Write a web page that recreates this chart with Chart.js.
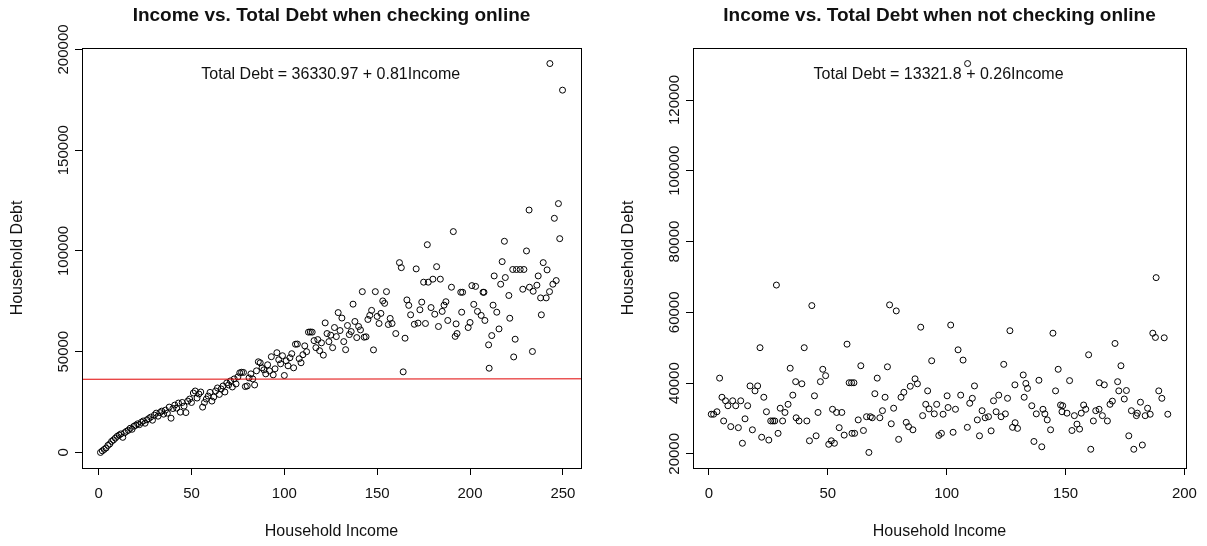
<!DOCTYPE html>
<html>
<head>
<meta charset="utf-8">
<script src="https://cdn.jsdelivr.net/npm/chart.js@4.4.1/dist/chart.umd.min.js"></script>
<style>
body { margin: 0; background: #fff; }
.wrap { position: absolute; top: 0; height: 546px; }
#leftWrap { left: 0; width: 603px; }
#rightWrap { left: 603px; width: 604px; }
</style>
</head>
<body>
<div id="leftWrap" class="wrap"><canvas id="onlineChart"></canvas></div>
<div id="rightWrap" class="wrap"><canvas id="offlineChart"></canvas></div>
<script>
// checking online
var onlineIncome = [1,2,3,4,5,6,7,8,9,10,11,12,13,14,15,16,17,18,19,20,21,22,23,24,25,26,27,28,29,30,31,32,33,34,35,
    36,37,38,39,40,41,42,43,44,45,46,47,48,49,50,51,52,53,54,55,56,57,58,59,60,61,62,63,64,65,66,67,68,69,70,71,72,
    73,74,75,76,77,78,79,80,81,82,83,84,85,86,87,88,89,90,91,92,93,94,95,96,97,98,99,100,101,102,103,104,105,106,107,108,109,110,111,112,
    113,114,115,116,117,118,119,120,121,122,123,124,125,126,127,128,129,130,
    131,132,133,134,135,136,137,138,139,140,141,142,143,144,145,146,147,148,149,150,151,152,153,154,155,156,157,158,160,
    162,163,164,165,166,167,168,170,171,172,173,174,175,176,177,177.5,179,180,181,182,183,184,185,186,187,188,190,
    191,192,192.5,193,195,196,195.5,200,201,203,202,204,199,206,207,208,207.5,210,210.3,211.7,212.4,213,214.4,215.6,
    216.5,217.3,218.5,219,220.9,221.4,223,223.5,224.3,225,227,228.4,229,230.4,231.8,232,233.6,234,236,236.7,238,238.4,
    239.4,241,241.5,242.8,243,244.6,245.4,246.4,247.6,248.3,249.8];
var onlineDebt = [0,800,1500,2200,3500,4200,5500,6200,7100,8000,8600,9200,7500,9800,10500,11000,12000,11500,13000,13500,
    14200,13800,15000,15600,14500,16200,16800,17500,16000,18500,19500,18000,19800,20500,19000,
    21000,19500,22500,17000,21800,23500,22000,24500,20000,24800,23000,19800,25500,26500,24800,29500,30500,27000,29000,
    30000,22500,24800,26500,28000,29800,25500,27500,30500,32000,28800,31500,33000,30000,34500,33500,35500,32500,
    36500,34000,37500,39500,39800,39700,32700,33000,37000,39000,36500,33500,40500,45000,44500,42000,41000,39000,43500,
    40500,47500,38500,41500,49500,46000,44000,48000,38200,45500,43000,47000,49000,42000,53700,53800,46500,44500,48500,
    52900,50000,
    59700,59800,59700,55500,52000,56000,50500,54400,48300,64300,59000,55000,58200,52000,62000,57500,69400,60500,
    66700,55000,51000,63000,58500,60000,73600,65000,57000,62500,60800,79800,57200,57400,66000,68000,70500,50900,79800,
    67500,64000,69000,75200,74000,79800,63500,66500,64000,59000,
    94200,91700,40000,56700,75700,73000,68300,63600,91100,64200,70800,74600,84500,64000,103100,84500,71900,86000,68600,
    92200,62500,86000,70000,73100,74800,65500,82000,
    109600,57600,63800,59000,79500,79500,69600,64500,82800,82400,73500,70000,62000,68000,79500,65500,79500,53400,41800,
    58000,73100,87600,69600,61300,
    83500,94700,104800,86800,77900,66600,90800,47400,56200,90800,90800,81000,90800,100000,120300,82000,50100,80000,83000,
    87600,76700,68300,
    94200,76700,90600,79800,193000,83500,116200,85300,123500,106100,179800];
var onlineXTicks = [0, 50, 100, 150, 200, 250];
var onlineYTicks = [0, 50000, 100000, 150000, 200000];
var onlineFit = [36330.97, 0.81];
var onlineTextAt = [125, 187300];

// not checking online
var offlineIncome = [1,2,3.4,4.5,5.5,6.2,7,8,9.2,10,11.3,12.4,13.4,14.1,15.2,16.3,17.3,18.3,19.4,20.5,21.5,22.2,23.1,
    24.2,25.2,26,26.9,27.7,28.4,29.1,30,31,32,33.3,34.2,35.3,36.5,36.7,37.9,39.1,40.1,41.2,42.3,43.3,44.4,45.1,45.9,
    46.9,47.9,49.1,50.4,51.5,52,52.8,53.7,54.8,55.9,56.9,58.1,59,60,61,60.2,61.3,62.8,63.9,65,66.3,67.3,67.9,68.7,69.8,
    70.8,71.9,73,74.1,75.1,76,76.7,77.7,78.8,79.8,80.8,82,83,84,84.7,85.8,86.7,87.7,89.1,89.9,91.2,92,92.6,93.7,94.8,
    95.8,96.7,97.8,98.5,100.2,100.6,101.7,102.7,103.7,104.8,105.9,106.9,108.7,108.8,109.7,110.8,111.7,112.9,113.8,
    114.9,116.2,117.6,118.7,119.7,120.8,121.9,122.9,124,124.7,125.6,126.6,127.7,128.7,128.8,129.8,132.2,132.6,133.3,
    134,135.8,136.7,137.7,138.8,140,140.5,141.3,142.3,143.7,144.7,145.8,146.9,147.9,148.5,148.8,150.6,151.7,152.7,
    153.7,154.8,155.9,156.6,157.6,158.5,159.7,160.6,161.7,162.7,164.1,164.2,165.5,166.3,167.6,168.7,169.7,170.8,171.9,
    172.4,173.3,174.7,175.6,176.6,177.7,178.7,179.8,180.2,181.5,182.3,183.5,184.5,185.6,186.7,187.8,188.1,189.2,190.5,
    191.5,193];
var offlineDebt = [31200,31200,31900,41400,36000,29300,35000,33600,27700,35000,33600,27400,35000,23000,29900,33600,
    39200,26800,37800,39200,50000,24700,36000,31900,23900,29300,29300,29300,67700,25800,32900,29300,31700,34000,44200,
    36600,40400,30200,29300,39800,50000,29300,23700,61900,36400,25100,31700,40400,43900,42100,22700,23700,32600,23000,
    31700,27400,31700,25300,51000,40100,40100,40100,25800,25800,29600,44900,26600,30500,20400,30500,30200,37000,41400,
    30200,32200,36000,44600,62100,28500,32900,60400,24100,36000,37400,28900,27700,39100,26800,41200,39800,55800,30800,
    34000,37800,32700,46300,31300,34000,25200,25800,31200,36400,33100,56400,26100,32600,49400,36600,46500,27500,130300,
    34300,35700,39200,29600,25100,32200,30200,30500,26500,35000,31900,36600,30500,45300,31300,35700,54800,27500,39500,
    28800,27200,42300,36000,39900,38500,33600,23500,31300,40800,22000,32600,31300,29600,26800,54100,37800,43900,33800,
    31900,33600,31500,40700,26600,30800,28400,27000,31500,33800,32600,48000,21300,29300,32200,32600,40100,30800,39500,
    29300,34000,34900,51200,40400,37800,44900,35500,37900,25100,32200,21300,30800,31500,34600,22500,30800,32900,31200,
    54100,52900,69800,37800,35700,52800,31200];
var offlineXTicks = [0, 50, 100, 150, 200];
var offlineYTicks = [20000, 40000, 60000, 80000, 100000, 120000];
var offlineFit = [13321.8, 0.26];
var offlineTextAt = [96.6, 127070];

var fontFamily = '"Liberation Sans", Arial, sans-serif';
var ink = '#111';

// R style: range of the data plus 4% on each side
function padRange(arr) {
    var lo = Math.min.apply(null, arr), hi = Math.max.apply(null, arr);
    var pad = (hi - lo) * 0.04;
    return [lo - pad, hi + pad];
}

function toPoints(xs, ys) {
    var pts = [];
    for (var i = 0; i < xs.length; i++) {
        pts.push({x: xs[i], y: ys[i]});
    }
    return pts;
}

var rPlotPlugin = {
    id: 'rPlot',
    afterDraw: function (chart, args, opts) {
        var ctx = chart.ctx, a = chart.chartArea;
        var xs = chart.scales.x, ys = chart.scales.y;
        ctx.save();
        ctx.strokeStyle = '#000';
        ctx.lineWidth = 1;
        ctx.strokeRect(Math.round(a.left) + 0.5, Math.round(a.top) + 0.5,
            Math.round(a.right - a.left), Math.round(a.bottom - a.top));

        ctx.fillStyle = ink;
        ctx.textAlign = 'center';
        ctx.textBaseline = 'middle';
        ctx.font = 'bold 19px ' + fontFamily;
        ctx.fillText(opts.title, (a.left + a.right) / 2, 16);

        // y tick labels run along the axis, as in R
        ctx.font = '15px ' + fontFamily;
        ys.ticks.forEach(function (t) {
            ctx.save();
            ctx.translate(a.left - 18, ys.getPixelForValue(t.value));
            ctx.rotate(-Math.PI / 2);
            ctx.fillText(String(t.value), 0, 0);
            ctx.restore();
        });

        ctx.font = '16px ' + fontFamily;
        ctx.fillText(opts.equation, xs.getPixelForValue(opts.at[0]), ys.getPixelForValue(opts.at[1]));
        ctx.restore();
    }
};

function rScatter(canvasId, o) {
    var xr = padRange(o.xs), yr = padRange(o.ys);
    var fitLine = [
        {x: xr[0], y: o.fit[0] + o.fit[1] * xr[0]},
        {x: xr[1], y: o.fit[0] + o.fit[1] * xr[1]}
    ];
    var axisFont = {family: fontFamily, size: 16};
    var tickFont = {family: fontFamily, size: 15};
    return new Chart(document.getElementById(canvasId), {
        type: 'scatter',
        data: {
            datasets: [{
                type: 'line',
                data: fitLine,
                borderColor: '#e00000',
                borderWidth: 1,
                pointRadius: 0,
                fill: false
            }, {
                data: toPoints(o.xs, o.ys),
                pointStyle: 'circle',
                pointRadius: 3,
                pointBorderWidth: 1,
                borderColor: '#000',
                backgroundColor: 'rgba(0,0,0,0)'
            }]
        },
        options: {
            responsive: true,
            maintainAspectRatio: false,
            animation: false,
            devicePixelRatio: 1,
            layout: {padding: {top: 48, right: o.padRight, left: 0, bottom: 0}},
            plugins: {
                legend: {display: false},
                tooltip: {enabled: false},
                rPlot: {
                    title: o.title,
                    equation: 'Total Debt = ' + o.fit[0] + ' + ' + o.fit[1] + 'Income',
                    at: o.textAt
                }
            },
            scales: {
                x: {
                    type: 'linear',
                    min: xr[0],
                    max: xr[1],
                    afterBuildTicks: function (s) { s.ticks = o.xTicks.map(function (v) { return {value: v}; }); },
                    afterFit: function (s) { s.height = 78; },
                    grid: {drawOnChartArea: false, drawTicks: true, tickLength: 7, color: '#000'},
                    border: {display: false},
                    ticks: {font: tickFont, color: ink, padding: 10, maxRotation: 0},
                    title: {display: true, text: 'Household Income', font: axisFont, color: ink, padding: {top: 0, bottom: 5}}
                },
                y: {
                    type: 'linear',
                    min: yr[0],
                    max: yr[1],
                    afterBuildTicks: function (s) { s.ticks = o.yTicks.map(function (v) { return {value: v}; }); },
                    afterFit: function (s) { s.width = o.boxLeft; },
                    grid: {drawOnChartArea: false, drawTicks: true, tickLength: 7, color: '#000'},
                    border: {display: false},
                    ticks: {display: false},
                    title: {display: true, text: 'Household Debt', font: axisFont, color: ink, padding: {top: o.ylabPad, bottom: 0}}
                }
            }
        },
        plugins: [rPlotPlugin]
    });
}

rScatter('onlineChart', {
    xs: onlineIncome, ys: onlineDebt, xTicks: onlineXTicks, yTicks: onlineYTicks,
    fit: onlineFit, textAt: onlineTextAt,
    title: 'Income vs. Total Debt when checking online',
    boxLeft: 82, padRight: 22, ylabPad: 8
});

rScatter('offlineChart', {
    xs: offlineIncome, ys: offlineDebt, xTicks: offlineXTicks, yTicks: offlineYTicks,
    fit: offlineFit, textAt: offlineTextAt,
    title: 'Income vs. Total Debt when not checking online',
    boxLeft: 90, padRight: 16, ylabPad: 16
});
</script>
</body>
</html>
